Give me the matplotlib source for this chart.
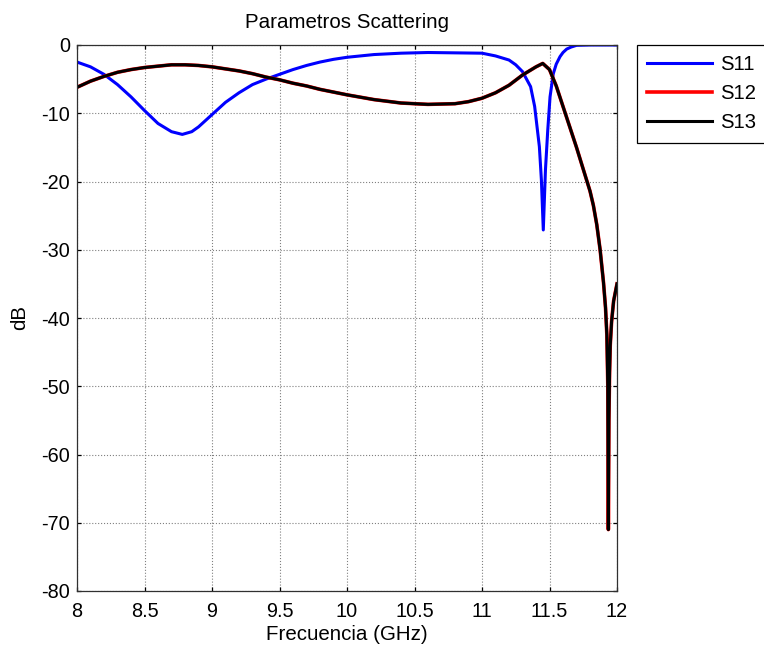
import numpy as np
from matplotlib import pyplot as plt

plt.rcParams['font.family'] = ['Liberation Sans', 'DejaVu Sans']
plt.rcParams['axes.unicode_minus'] = False

# reflection coefficient S11 (dB) vs frequency (GHz)
f_s11 = [8.0, 8.1, 8.2, 8.3, 8.4, 8.5, 8.6, 8.7, 8.78, 8.85, 8.9, 9.0, 9.1, 9.2,
         9.3, 9.4, 9.5, 9.6, 9.7, 9.8, 9.9, 10.0, 10.2, 10.4, 10.6, 10.8, 11.0,
         11.1, 11.2, 11.25, 11.3, 11.36, 11.39, 11.425, 11.44, 11.454, 11.47,
         11.487, 11.504, 11.528, 11.55, 11.578, 11.6, 11.627, 11.66, 11.7, 11.8, 12.0]
s11 = [-2.5, -3.2, -4.3, -5.8, -7.6, -9.6, -11.5, -12.7, -13.1, -12.7, -12.0,
       -10.2, -8.4, -7.0, -5.8, -5.0, -4.3, -3.6, -3.0, -2.5, -2.1, -1.8, -1.4,
       -1.2, -1.1, -1.15, -1.2, -1.6, -2.2, -2.9, -3.9, -6.1, -9.0, -14.9, -19.8,
       -27.1, -18.3, -12.5, -7.6, -4.2, -2.8, -1.7, -1.1, -0.6, -0.3, -0.05, 0.0, 0.0]

# transmission S12 / S13 (dB), both ports give the same curve
f_s1x = [8.0, 8.1, 8.2, 8.3, 8.4, 8.5, 8.6, 8.7, 8.8, 8.9, 9.0, 9.1, 9.2, 9.3,
         9.4, 9.5, 9.6, 9.7, 9.8, 9.9, 10.0, 10.2, 10.4, 10.6, 10.8, 10.9, 11.0,
         11.1, 11.2, 11.3, 11.4, 11.45, 11.5, 11.55, 11.6, 11.65, 11.7, 11.75,
         11.8, 11.825, 11.85, 11.875, 11.9, 11.915, 11.925, 11.932, 11.936, 11.94,
         11.945, 11.95, 11.96, 11.975, 12.0]
s12 = [-6.2, -5.3, -4.6, -4.0, -3.6, -3.3, -3.1, -2.9, -2.9, -3.0, -3.2, -3.5,
       -3.8, -4.2, -4.7, -5.1, -5.6, -6.0, -6.5, -6.9, -7.3, -8.0, -8.5, -8.7,
       -8.6, -8.3, -7.8, -7.0, -5.9, -4.4, -3.2, -2.7, -3.6, -6.0, -9.0, -12.0,
       -15.0, -18.2, -21.4, -23.5, -26.3, -30.0, -34.8, -38.5, -42.5, -50.0,
       -71.0, -55.0, -48.0, -44.0, -40.5, -37.5, -35.0]
s13 = list(s12)

xticks = [8, 8.5, 9, 9.5, 10, 10.5, 11, 11.5, 12]
xtick_labels = ['8', '8.5', '9', '9.5', '10', '10.5', '11', '11.5', '12']
yticks = [-80, -70, -60, -50, -40, -30, -20, -10, 0]

fig = plt.figure(figsize=(7.64, 6.5), dpi=100)
ax = fig.add_axes([77/764, 59/650, 540/764, 546/650])

ax.plot(f_s11, s11, color='#0000ff', lw=2.2, label='S11')
ax.plot(f_s1x, s12, color='#ff0000', lw=2.6, label='S12')
ax.plot(f_s1x, s13, color='#000000', lw=2.2, label='S13')

ax.set_xlim(8, 12)
ax.set_ylim(-80, 0)
ax.set_xticks(xticks)
ax.set_xticklabels(xtick_labels)
ax.set_yticks(yticks)
ax.grid(True, linestyle=':', color='#808080', linewidth=0.8)
ax.tick_params(direction='in', top=True, right=True, length=3, width=0.9,
               labelsize=14.3, pad=5)
ax.tick_params(axis='x', pad=8)
for sp in ax.spines.values():
    sp.set_linewidth(0.9)
    sp.set_color('#303030')

ax.set_title('Parametros Scattering', fontsize=14.8, pad=12.5)
ax.set_xlabel('Frecuencia (GHz)', fontsize=14.8, labelpad=3)
ax.set_ylabel('dB', fontsize=14.8, labelpad=9)

leg = ax.legend(loc='upper left', bbox_to_anchor=(1.037, 1.0), fontsize=14.6,
                fancybox=False, edgecolor='black', framealpha=1,
                handlelength=3.2, handletextpad=0.4, borderpad=0.5,
                labelspacing=0.5, borderaxespad=0)
leg.get_frame().set_linewidth(0.9)

fig.savefig('out.png', dpi=100)
